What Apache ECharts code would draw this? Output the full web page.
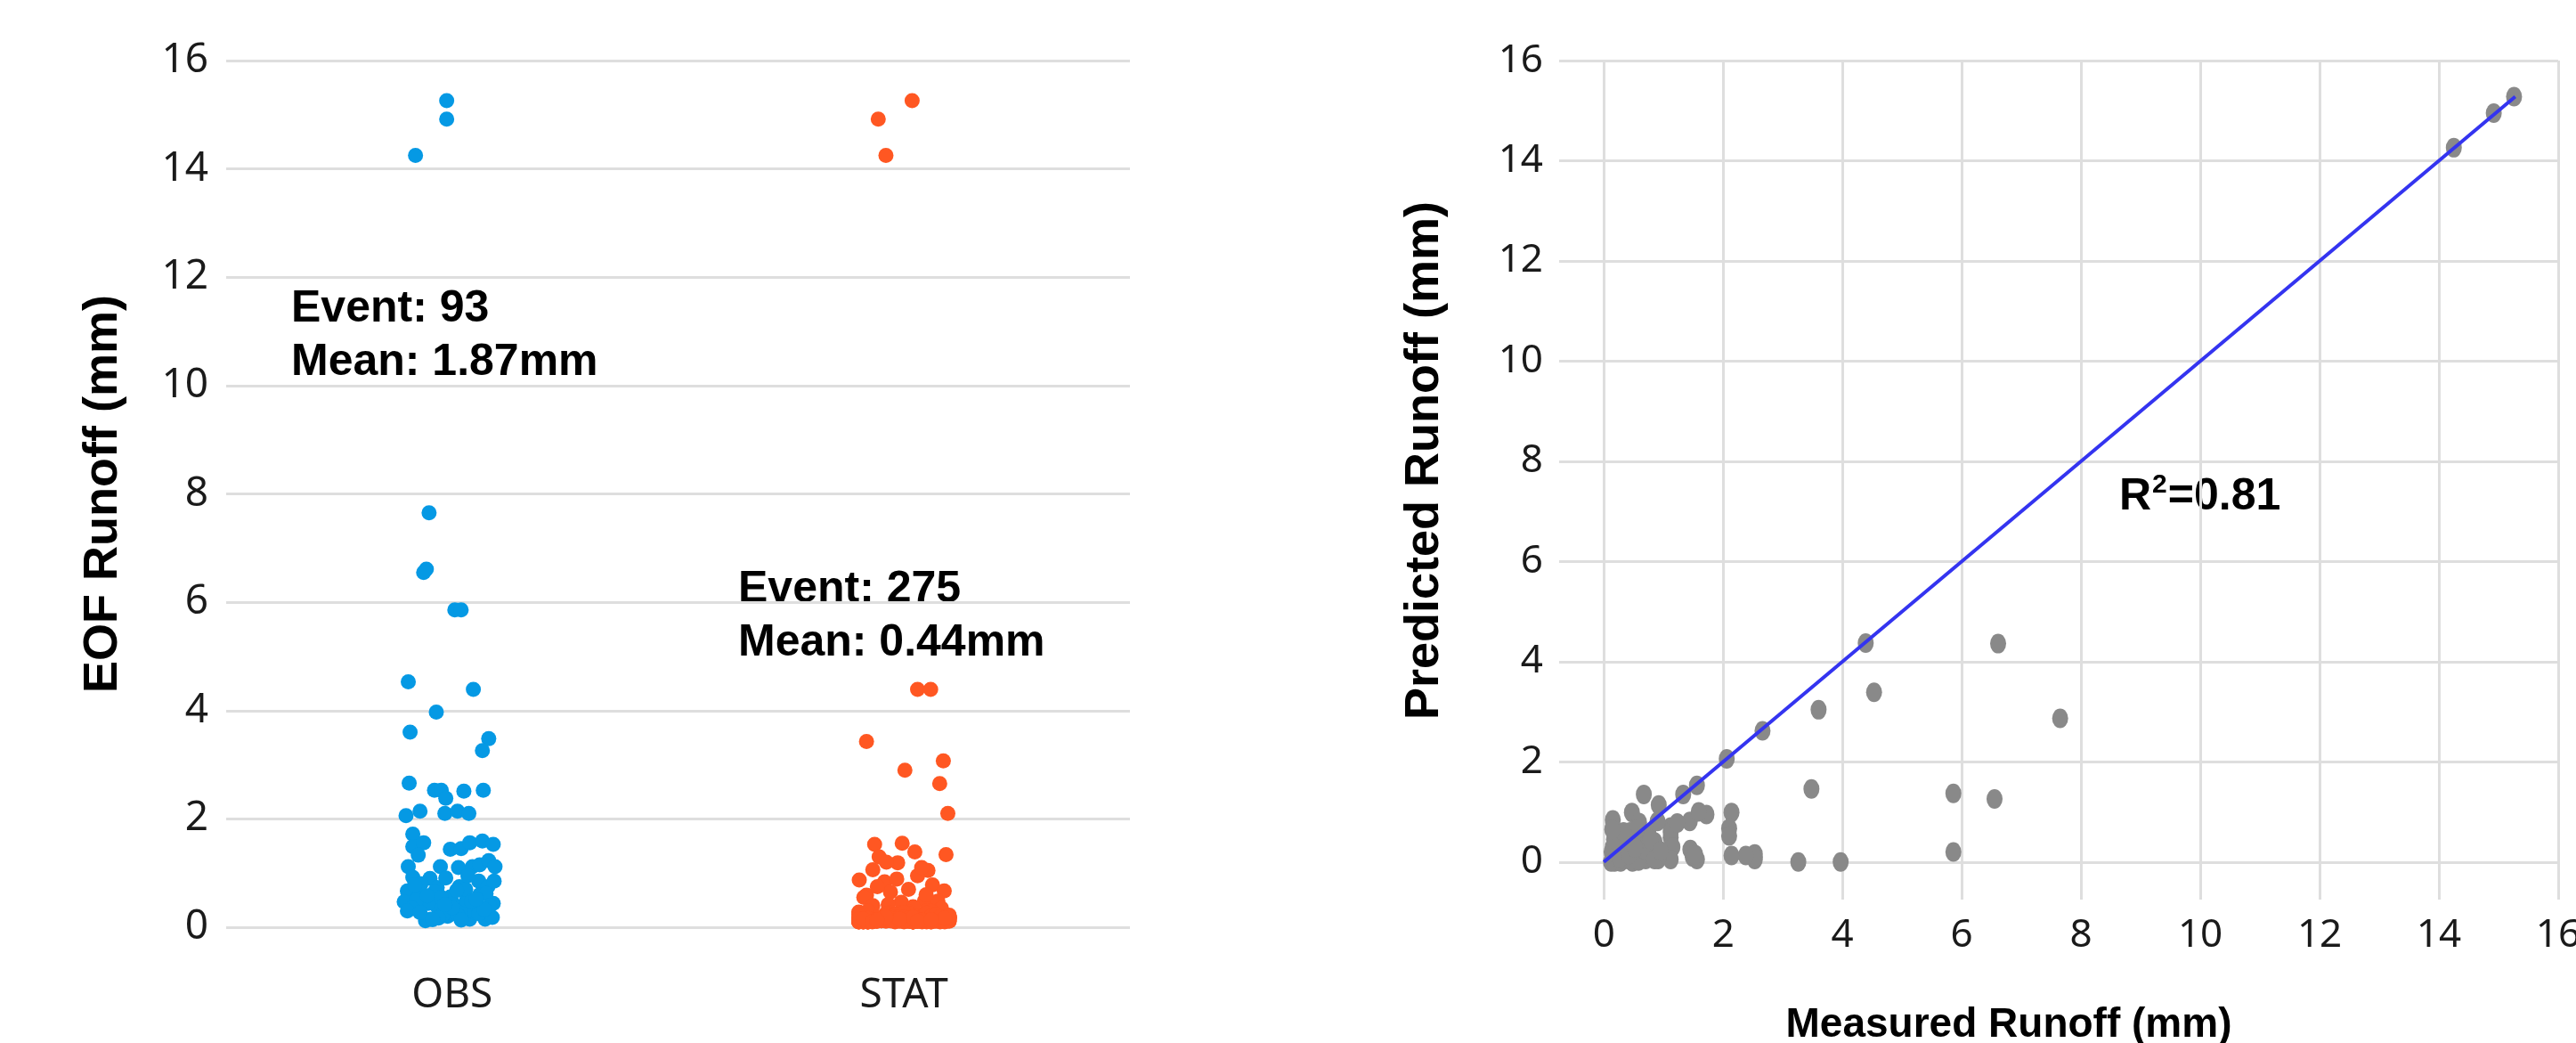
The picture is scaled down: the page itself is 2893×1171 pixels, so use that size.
<!DOCTYPE html>
<html>
<head>
  <meta charset="utf-8">
  <style>
    html, body { margin: 0; padding: 0; background: #fff; }
    #main { width: 2893px; height: 1171px; }
  </style>
</head>
<body>
  <div id="main"></div>
</body>
<script src="https://cdn.jsdelivr.net/npm/echarts@6.0.0/dist/echarts.min.js"></script>
<script>
  var groups = ['OBS', 'STAT'];

  // observed EOF runoff per event (mm), also the x of the right panel
  var obsMeasured = [
    15.26, 14.92, 14.25, 7.65, 6.61, 6.55, 5.86, 5.86, 4.53, 4.39,
    3.97, 3.60, 3.48, 3.26, 2.66, 2.53, 2.53, 2.51, 2.53, 2.38,
    2.14, 2.06, 2.10, 2.14, 2.10, 1.72, 1.49, 1.56, 1.33, 1.44,
    1.45, 1.56, 1.59, 1.53, 1.12, 0.92, 1.12, 1.10, 1.12, 1.15,
    1.23, 1.12, 0.90, 0.85, 0.75, 0.75, 0.67, 0.47, 0.59, 0.73,
    0.91, 0.44, 0.15, 0.20, 0.15, 0.15, 0.38, 0.44, 0.32, 0.44,
    0.44, 0.23, 0.23, 0.60, 0.56, 0.50, 0.50, 0.12, 0.18, 0.28,
    0.35, 0.65, 0.70, 0.80, 0.62, 0.30, 0.40, 0.55, 0.25, 0.13,
    0.17, 0.36, 0.48, 0.58, 0.68, 0.85, 0.78, 0.95, 0.27, 0.33,
    0.42, 0.52, 0.14
  ];
  // predicted runoff for the same events (mm)
  var predicted = [
    15.28, 14.95, 14.26, 2.87, 4.36, 1.26, 1.37, 0.20, 3.39, 4.37,
    0.00, 3.04, 1.46, 0.00, 2.62, 0.05, 0.16, 0.12, 0.10, 0.13,
    0.99, 2.06, 0.67, 0.13, 0.52, 0.95, 0.10, 1.53, 1.35, 0.81,
    0.25, 0.05, 1.00, 0.15, 0.70, 1.14, 0.49, 0.13, 0.60, 0.30,
    0.78, 0.05, 0.81, 0.40, 0.56, 0.20, 1.35, 0.99, 0.79, 0.30,
    0.05, 0.42, 0.84, 0.55, 0.30, 0.10, 0.18, 0.60, 0.25, 0.05,
    0.50, 0.02, 0.15, 0.35, 0.08, 0.45, 0.22, 0.00, 0.00, 0.00,
    0.05, 0.12, 0.05, 0.15, 0.55, 0.40, 0.30, 0.65, 0.35, 0.20,
    0.45, 0.10, 0.00, 0.02, 0.25, 0.05, 0.45, 0.22, 0.08, 0.60,
    0.15, 0.28, 0.65
  ];
  // horizontal scatter of each OBS dot, in % of the category width
  var obsJitter = [
    -1.2, -1.2, -8.1, -5.1, -5.7, -6.3, 0.6, 2.0, -9.7, 4.7,
    -3.5, -9.3, 8.1, 6.7, -9.5, -3.9, -2.4, 2.6, 6.9, -1.4,
    -7.1, -10.2, -1.6, 1.2, 3.7, -8.7, -8.7, -6.3, -7.5, -0.4,
    2.0, 3.9, 6.7, 9.1, -9.7, -8.7, -2.6, 1.4, 4.5, 6.1,
    8.1, 9.5, -4.9, 5.9, 1.6, 7.9, -9.9, -10.6, -7.3, -3.3,
    -1.4, 9.1, -4.7, -1.0, 3.9, 7.3, -3.3, 0.2, 2.6, 5.5,
    -5.3, -2.0, 1.2, 6.1, -0.4, 3.2, -7.9, -5.9, 8.9, 4.9,
    -8.9, -3.9, 3.0, -6.9, 7.5, -9.9, 8.3, -2.4, 5.9, 2.0,
    -3.0, 0.0, 4.3, -5.5, 1.0, 9.3, -8.3, 3.5, -7.1, 7.1,
    -1.6, 5.3, -4.3
  ];

  // STAT events: the spread-out ones, then the dense band near zero
  var statUpper = [
    15.26, 14.92, 14.25, 4.39, 4.39, 3.43, 3.07, 2.90, 2.65, 2.10,
    1.53, 1.55, 1.39, 1.34, 1.30, 1.19, 1.06, 1.05, 0.95, 0.87,
    0.84, 0.89, 0.78, 0.59, 0.65, 0.67, 0.48, 0.48, 0.46, 1.20,
    1.10, 0.75, 0.70, 0.60, 0.55, 0.40, 0.38, 0.35, 0.42
  ];
  var statUpperJitter = [
    1.8, -5.7, -4.0, 3.0, 5.9, -8.3, 8.7, 0.2, 7.9, 9.7,
    -6.5, -0.4, 2.4, 9.3, -5.5, -1.4, -6.9, 5.3, 3.0, -9.9,
    -4.3, -1.6, 6.3, -8.3, -3.0, 8.9, 4.5, 7.5, -0.6, -3.9,
    3.9, -5.9, 1.0, 4.9, -8.9, -6.9, 2.0, 8.3, -3.5
  ];
  var statLower = [
    0.12, 0.15, 0.10, 0.18, 0.11, 0.14, 0.20, 0.13, 0.16, 0.10, 0.19, 0.12, 0.15, 0.25, 0.11, 0.17, 0.14, 0.10, 0.22, 0.13,
    0.15, 0.16, 0.11, 0.19, 0.28, 0.12, 0.10, 0.17, 0.14, 0.10, 0.13, 0.15, 0.16, 0.23, 0.11, 0.12, 0.13, 0.30, 0.18, 0.15,
    0.17, 0.11, 0.19, 0.21, 0.14, 0.14, 0.10, 0.16, 0.26, 0.12, 0.12, 0.18, 0.18, 0.11, 0.15, 0.13, 0.24, 0.11, 0.15, 0.13,
    0.19, 0.10, 0.20, 0.16, 0.16, 0.12, 0.12, 0.27, 0.18, 0.14, 0.11, 0.10, 0.19, 0.15, 0.22, 0.11, 0.13, 0.15, 0.17, 0.18,
    0.11, 0.13, 0.18, 0.25, 0.15, 0.10, 0.17, 0.12, 0.12, 0.29, 0.16, 0.15, 0.10, 0.19, 0.21, 0.13, 0.11, 0.16, 0.14, 0.14,
    0.10, 0.12, 0.18, 0.16, 0.13, 0.23, 0.10, 0.18, 0.15, 0.13, 0.20, 0.11, 0.17, 0.26, 0.11, 0.12, 0.19, 0.17, 0.15, 0.14,
    0.16, 0.19, 0.11, 0.11, 0.18, 0.16, 0.13, 0.24, 0.13, 0.10, 0.10, 0.18, 0.15, 0.14, 0.28, 0.17, 0.12, 0.12, 0.21, 0.19,
    0.15, 0.13, 0.11, 0.17, 0.22, 0.11, 0.13, 0.19, 0.17, 0.15, 0.30, 0.10, 0.12, 0.16, 0.18, 0.19, 0.10, 0.12, 0.25, 0.16,
    0.11, 0.18, 0.12, 0.14, 0.17, 0.20, 0.10, 0.10, 0.16, 0.15, 0.12, 0.27, 0.18, 0.11, 0.15, 0.19, 0.22, 0.13, 0.13, 0.16,
    0.18, 0.11, 0.17, 0.12, 0.15, 0.24, 0.10, 0.12, 0.14, 0.19, 0.16, 0.11, 0.10, 0.16, 0.19, 0.21, 0.13, 0.13, 0.17, 0.18,
    0.12, 0.14, 0.19, 0.26, 0.16, 0.11, 0.11, 0.17, 0.18, 0.13, 0.20, 0.15, 0.10, 0.15, 0.10, 0.12, 0.23, 0.17, 0.16, 0.13,
    0.12, 0.16, 0.19, 0.12, 0.10, 0.15, 0.18, 0.22, 0.10, 0.13, 0.15, 0.17, 0.19, 0.11, 0.13, 0.14
  ];
  var statLowerJitter = [
    -9, 4, -2, 7, -6, 10, -4, 1, 8, -10, 3, -7, 6, -1, 9, -5, 2, -8, 5, 0,
    7, -3, 10, -9, 1, -6, 4, 8, -2, -10, 6, -4, 9, 0, -7, 3, -1, 5, -8, 2,
    -5, 9, -10, 2, 6, -3, 8, -7, 0, 4, -9, 10, -1, 5, -6, 7, -4, 1, -8, 3,
    10, -8, 3, -1, 6, -5, 9, -3, 0, -10, 7, 2, -6, 8, -2, 4, -9, 1, 5, -4,
    -7, 0, 8, -4, 2, -9, 5, 10, -2, 6, -6, 1, -10, 7, 3, -3, 9, -8, 4, -1,
    2, -10, 6, 9, -5, 0, -8, 4, -3, 7, 1, -6, 10, -1, 5, -9, 3, -4, 8, -7,
    -3, 5, -9, 1, 10, -6, 7, -2, 4, -8, 0, 9, -5, 3, -10, 6, -1, 8, -4, 2,
    9, -4, 0, -7, 3, 8, -10, 5, -1, 6, -8, 2, -5, 10, -3, 4, -9, 7, 1, -6,
    -1, 6, -8, 4, -5, 10, 2, -9, 7, -3, 9, 0, -6, 3, -10, 5, -2, 8, -7, 1,
    4, -7, 9, -3, 0, -10, 6, 2, -5, 8, -1, -8, 5, 1, 10, -4, 7, -9, 3, -2,
    -6, 8, -1, 5, -9, 3, -4, 10, 0, -7, 6, -2, 9, -10, 2, -5, 7, 1, -8, 4,
    0, -5, 8, -3, 6, -9, 2, 10, -7, 4, -1, 9, -4, 3, -6, 6
  ];

  // fitted line of the right panel
  var fitX = [0, 15.28];
  var fitY = [0, 15.28];

  var chart = echarts.init(document.getElementById('main'));

  function jittered(values, jitter, center) {
    return values.map(function (v, i) {
      return [center + jitter[i] / 100, v];
    });
  }
  var obsPoints = jittered(obsMeasured, obsJitter, 0.5);
  var statPoints = jittered(statUpper.concat(statLower), statUpperJitter.concat(statLowerJitter), 1.5);
  var pairPoints = obsMeasured.map(function (m, i) { return [m, predicted[i]]; });
  var fitPoints = fitX.map(function (x, i) { return [x, fitY[i]]; });

  var splitLine = { show: true, lineStyle: { color: '#dedede', width: 3 } };
  var tickFont = { fontFamily: 'Noto Sans', fontSize: 46, color: '#1a1a1a' };
  var nameFont = { fontFamily: 'Liberation Sans', fontWeight: 'bold', fontSize: 54, color: '#000' };

  chart.setOption({
    animation: false,
    grid: [
      { left: 254, top: 68, width: 1015, height: 973, outerBoundsMode: 'none' },
      { left: 1751, top: 68, width: 1122, height: 942, outerBoundsMode: 'none' }
    ],
    xAxis: [
      { type: 'value', gridIndex: 0, position: 'bottom', min: 0, max: 2, show: false },
      {
        type: 'category', gridIndex: 0, position: 'bottom', data: groups,
        axisLine: { show: false }, axisTick: { show: false }, splitLine: { show: false },
        axisLabel: Object.assign({ margin: 54 }, tickFont)
      },
      {
        type: 'value', gridIndex: 1, position: 'bottom', min: -0.75, max: 16,
        splitNumber: 8, minInterval: 2, maxInterval: 2,
        axisLine: { show: false }, axisTick: { show: false },
        axisLabel: Object.assign({ margin: 18, showMinLabel: false }, tickFont, { fontSize: 44 }),
        splitLine: { show: true, showMinLine: false, lineStyle: { color: '#dedede', width: 3 } },
        name: 'Measured Runoff (mm)', nameLocation: 'middle', nameGap: 118,
        nameTextStyle: Object.assign({ padding: [0, 112, 0, 0] }, nameFont, { fontSize: 46 })
      }
    ],
    yAxis: [
      {
        type: 'value', gridIndex: 0, min: 0, max: 16, interval: 2,
        axisLine: { show: false }, axisTick: { show: false },
        axisLabel: Object.assign({ margin: 20 }, tickFont),
        splitLine: splitLine,
        name: 'EOF Runoff (mm)', nameLocation: 'middle', nameRotate: 90, nameGap: 111,
        nameTextStyle: nameFont
      },
      {
        type: 'value', gridIndex: 1, min: -0.75, max: 16,
        splitNumber: 8, minInterval: 2, maxInterval: 2,
        axisLine: { show: false }, axisTick: { show: false },
        axisLabel: Object.assign({ margin: 18, showMinLabel: false }, tickFont, { fontSize: 44 }),
        splitLine: { show: true, showMinLine: false, lineStyle: { color: '#dedede', width: 3 } },
        name: 'Predicted Runoff (mm)', nameLocation: 'middle', nameRotate: 90, nameGap: 124,
        nameTextStyle: Object.assign({ padding: [0, 0, 0, 44] }, nameFont)
      }
    ],
    series: [
      {
        name: 'OBS', type: 'scatter', xAxisIndex: 0, yAxisIndex: 0,
        symbolSize: 17, itemStyle: { color: '#0599e4', opacity: 1 },
        data: obsPoints
      },
      {
        name: 'STAT', type: 'scatter', xAxisIndex: 0, yAxisIndex: 0,
        symbolSize: 17, itemStyle: { color: '#ff5722', opacity: 1 },
        data: statPoints
      },
      {
        name: 'Events', type: 'scatter', xAxisIndex: 2, yAxisIndex: 1,
        symbolSize: [18, 22], itemStyle: { color: '#898989', opacity: 1 },
        data: pairPoints
      },
      {
        name: 'Fit', type: 'line', xAxisIndex: 2, yAxisIndex: 1, z: 5,
        symbol: 'none', lineStyle: { color: '#3434f0', width: 4 },
        data: fitPoints
      }
    ],
    graphic: [
      {
        type: 'text', left: 327, top: 317,
        style: { text: 'Event: 93\nMean: 1.87mm', font: 'bold 50px "Liberation Sans"', lineHeight: 60, fill: '#000' }
      },
      {
        type: 'text', left: 829, top: 632,
        style: { text: 'Event: 275\nMean: 0.44mm', font: 'bold 50px "Liberation Sans"', lineHeight: 60, fill: '#000' }
      },
      {
        type: 'text', left: 2380, top: 530,
        style: {
          text: '{a|R}{b|2}{a|=0.81}',
          rich: {
            a: { fontFamily: 'Liberation Sans', fontWeight: 'bold', fontSize: 50, fill: '#000', lineHeight: 60 },
            b: { fontFamily: 'Liberation Sans', fontWeight: 'bold', fontSize: 30, fill: '#000', lineHeight: 60, padding: [0, 1, 26, 1] }
          }
        }
      }
    ]
  });
</script>
</html>
